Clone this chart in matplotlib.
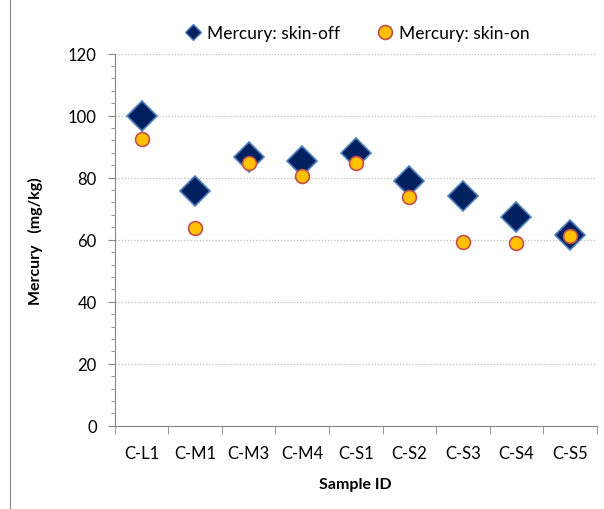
import numpy as np
import matplotlib.pyplot as plt
from matplotlib.lines import Line2D

samples = ["C-L1", "C-M1", "C-M3", "C-M4", "C-S1", "C-S2", "C-S3", "C-S4", "C-S5"]
skin_off = [100.0, 75.8, 86.8, 85.3, 87.9, 78.8, 74.2, 67.4, 61.5]
skin_on = [92.5, 63.9, 84.7, 80.6, 84.7, 73.9, 59.4, 58.9, 61.3]

plt.rcParams['font.family'] = ['Lato', 'DejaVu Sans']

fig = plt.figure(figsize=(6.04, 5.1), dpi=100)
ax = fig.add_axes([0.19, 0.163, 0.798, 0.73])

x = np.arange(len(samples))
ax.plot(x, skin_off, linestyle='none', marker='D', markersize=15,
        markerfacecolor='#002060', markeredgecolor='#4F81BD', markeredgewidth=1.2,
        zorder=3)
ax.plot(x, skin_on, linestyle='none', marker='o', markersize=10,
        markerfacecolor='#FFC000', markeredgecolor='#C0504D', markeredgewidth=1.2,
        zorder=4)

ax.set_xlim(-0.5, len(samples) - 0.5)
ax.set_ylim(0, 120)
ax.set_yticks(np.arange(0, 121, 20))
ax.set_yticks(np.arange(0, 121, 4), minor=True)
ax.set_xticks(x)
ax.set_xticklabels(samples)
ax.set_xticks(np.arange(-0.5, len(samples), 1), minor=True)
ax.tick_params(axis='x', which='major', length=0, pad=14, labelsize=12)
ax.tick_params(axis='x', which='minor', length=6, direction='out', color='#868686')
ax.tick_params(axis='y', which='major', length=5, color='#868686', labelsize=12, pad=8)
ax.tick_params(axis='y', which='minor', length=3, color='#868686')

for v in range(20, 121, 20):
    ax.axhline(v, color='#BFBFBF', linestyle=(0, (1, 1.5)), linewidth=0.9, zorder=1)

for s in ['top', 'right']:
    ax.spines[s].set_visible(False)
ax.spines['left'].set_color('#868686')
ax.spines['bottom'].set_color('#868686')

ax.set_xlabel('Sample ID', fontweight='bold', fontsize=11.5, labelpad=11)
ax.set_ylabel('Mercury   (mg/kg)', fontweight='bold', fontsize=11.5, labelpad=18)

handles = [
    Line2D([], [], linestyle='none', marker='D', markersize=8,
           markerfacecolor='#002060', markeredgecolor='#4F81BD', markeredgewidth=1.0,
           label='Mercury: skin-off'),
    Line2D([], [], linestyle='none', marker='o', markersize=10,
           markerfacecolor='#FFC000', markeredgecolor='#C0504D', markeredgewidth=1.2,
           label='Mercury: skin-on'),
]
ax.legend(handles=handles, loc='lower center', bbox_to_anchor=(0.5, 1.0), ncol=2,
          frameon=False, fontsize=12.5, handletextpad=0.2, columnspacing=2.0,
          handlelength=1.2, borderaxespad=0.3)

fig.add_artist(Line2D([0.017, 0.017], [0.0, 1.0], color='#868686', linewidth=0.8))

fig.savefig('out.png', dpi=100)
